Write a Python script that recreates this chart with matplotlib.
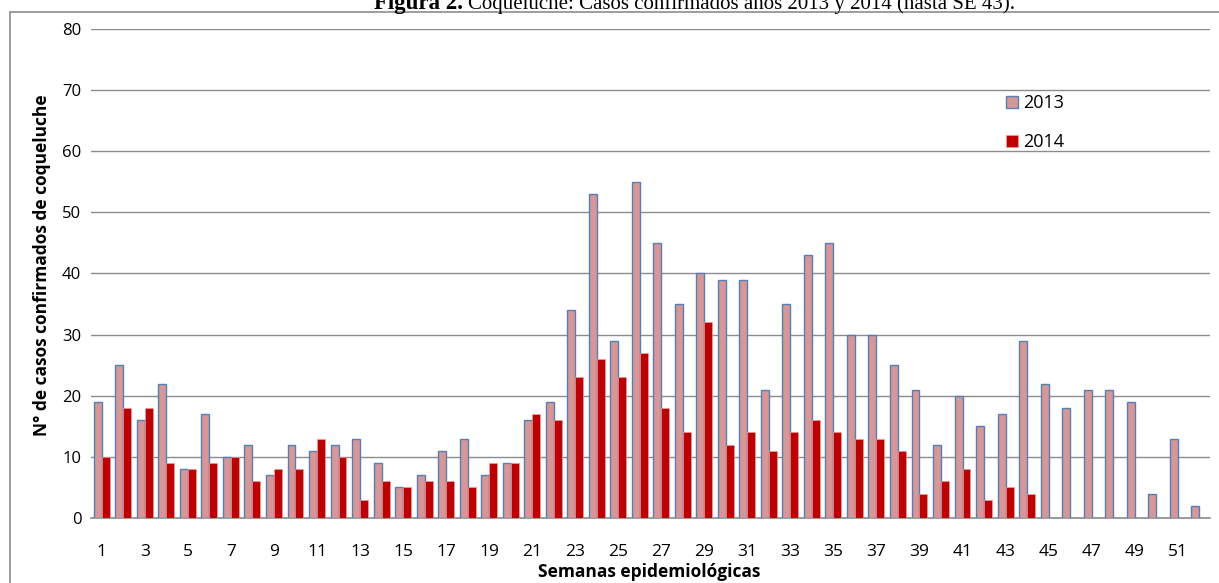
import matplotlib.pyplot as plt
import matplotlib.patches as mpatches
import numpy as np

# weekly confirmed cases
weeks = list(range(1, 53))
cases2013 = [19, 25, 16, 22, 8, 17, 10, 12, 7, 12, 11, 12, 13, 9, 5, 7, 11, 13, 7, 9,
             16, 19, 34, 53, 29, 55, 45, 35, 40, 39, 39, 21, 35, 43, 45, 30, 30, 25, 21, 12,
             20, 15, 17, 29, 22, 18, 21, 21, 19, 4, 13, 2]
cases2014 = [10, 18, 18, 9, 8, 9, 10, 6, 8, 8, 13, 10, 3, 6, 5, 6, 6, 5, 9, 9,
             17, 16, 23, 26, 23, 27, 18, 14, 32, 12, 14, 11, 14, 16, 14, 13, 13, 11, 4, 6,
             8, 3, 5, 4]

fig = plt.figure(figsize=(12.19, 5.83), dpi=100)
ax = fig.add_axes([0.0747, 0.1115, 0.9179, 0.8388])

x = np.arange(len(weeks))
w = 0.37
ax.bar(x[:len(cases2013)] - w / 2, cases2013, width=w, color='#D99694',
       edgecolor='#4F81BD', linewidth=1.0, label='2013', zorder=3)
ax.bar(x[:len(cases2014)] + w / 2, cases2014, width=w, color='#C00000',
       edgecolor='#E6A0A0', linewidth=0.5, label='2014', zorder=3)

ax.set_xlim(-0.5, len(weeks) - 0.5)
ax.set_ylim(0, 80)
ax.set_yticks(range(0, 81, 10))
ax.set_xticks(x[::2])
ax.set_xticklabels([str(v) for v in weeks[::2]])
ax.tick_params(axis='x', length=0, labelsize=12.5, pad=19)
ax.tick_params(axis='y', length=0, labelsize=12, pad=7)
for lbl in ax.get_xticklabels() + ax.get_yticklabels():
    lbl.set_fontfamily('Open Sans')
ax.yaxis.grid(True, color='#8C8C8C', linewidth=1.0, zorder=0)
for s in ['top', 'right', 'left']:
    ax.spines[s].set_visible(False)
ax.spines['bottom'].set_color('#8C8C8C')
ax.spines['bottom'].set_linewidth(1.2)

ax.set_ylabel('N° de casos confirmados de coqueluche', fontsize=12.5, fontweight='bold',
              fontfamily='Open Sans')
ax.yaxis.set_label_coords(-0.036, 0.517)
ax.set_xlabel('Semanas epidemiológicas', fontsize=12.5, fontweight='bold',
              fontfamily='Open Sans')
ax.xaxis.set_label_coords(0.499, -0.093)

leg = ax.legend(loc='upper left', bbox_to_anchor=(0.803, 0.9), frameon=False,
                handlelength=0.65, handleheight=0.65, labelspacing=1.15,
                handletextpad=0.3, prop={'family': 'Open Sans', 'size': 13})

# outer frame
fig.patches.append(mpatches.Rectangle((10 / 1219, -0.1), 1.2, 1 - 12 / 583 + 0.1,
                                      transform=fig.transFigure, fill=False,
                                      edgecolor='#8C8C8C', linewidth=1.2))

# title, partly cut at top
t1 = fig.text(0.307, 0.9846, 'Figura 2.', fontsize=16.5, fontweight='bold',
              fontfamily='Liberation Serif', ha='left', va='baseline')
fig.canvas.draw()
bb = t1.get_window_extent()
fig.text(bb.x1 / fig.bbox.width + 0.004, 0.9846,
         'Coqueluche: Casos confirmados años 2013 y 2014 (hasta SE 43).',
         fontsize=15, fontfamily='Liberation Serif', ha='left', va='baseline')

fig.savefig('out.png', dpi=100)
